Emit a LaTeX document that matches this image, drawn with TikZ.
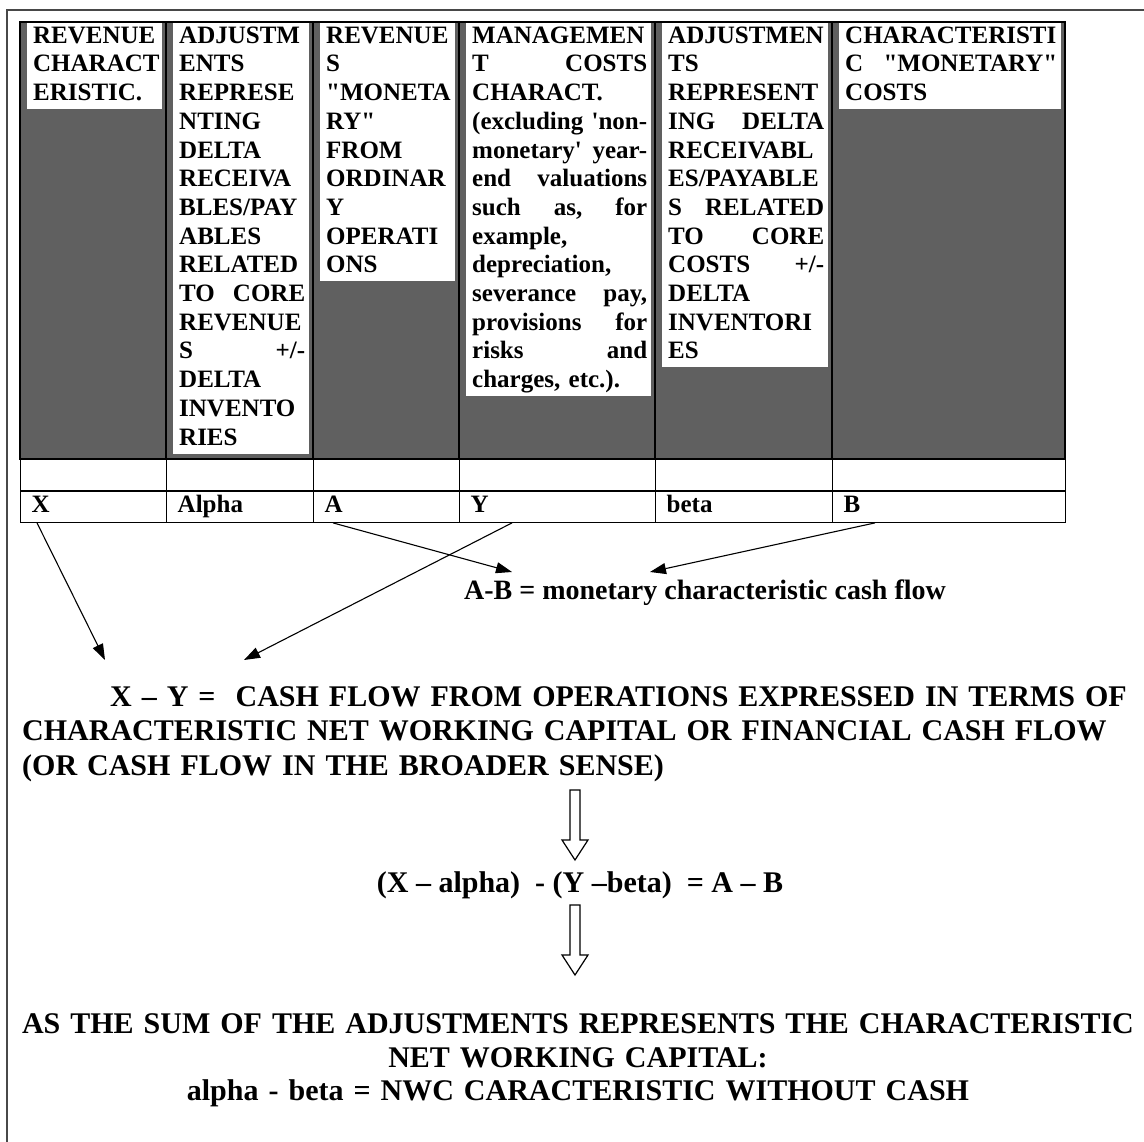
\documentclass[tikz,border=0pt]{standalone}
\usepackage{fontspec}
\setmainfont{Liberation Serif}[Ligatures=TeXOff]
\usetikzlibrary{arrows.meta}

\definecolor{cellgray}{RGB}{96,96,96}
\definecolor{framegray}{RGB}{72,72,72}

\newcommand\tabfont{\fontsize{25}{28.7}\selectfont\bfseries}
\newcommand\bigfont{\fontsize{30}{34.5}\selectfont\bfseries}
\newcommand\lastfont{\fontsize{30}{33.5}\selectfont\bfseries}
\newcommand\midfont{\fontsize{28}{32}\selectfont\bfseries}

% header cell: left x, right x, number of text lines, node name, text
\newcommand\headcell[5]{%
  \pgfmathsetmacro\hcw{#2-#1-21}%
  \fill[cellgray] (#1,22) rectangle (#2,459);
  \fill[white] (#1+7,23) rectangle (#2-4,{23+#3*28.7});
  \node[headtext, text width=\hcw pt] (#4) at (#1+13,23) {\strut #5};
}
% value cells of the two lower rows
\newcommand\valcell[4]{%
  \pgfmathsetmacro\vcw{#2-#1}%
  \pgfmathsetmacro\vtw{#2-#1-22}%
  \node[cellbox, minimum width=\vcw pt] (e#3) at (#1,459) {};
  \node[cellbox, minimum width=\vcw pt, text width=\vtw pt] (#3) at (#1,490) {#4};
}

\begin{document}
\begin{tikzpicture}[x=1pt,y=-1pt,
  headtext/.style={anchor=north west, inner sep=0pt, align=left, font=\tabfont},
  cellbox/.style={draw=black, line width=1.4pt, anchor=north west, inner xsep=11pt,
    inner ysep=0pt, minimum height=31.5pt, text height=18pt, text depth=6pt,
    align=left, font=\tabfont},
  link/.style={line width=1.1pt, -{Triangle[length=16pt,width=11pt]}},
  hollow/.style={draw=black, line width=1.2pt, fill=white}]

\useasboundingbox (0,0) rectangle (1144,1142);

% page frame
\draw[framegray, line width=1.5pt] (7,1142) -- (7,10) -- (1144,10);

% header row: grey cells with white text strips
\headcell{20}{166}{3}{h1}{REVENUE\\CHARACT\\ERISTIC.}
\headcell{166}{313}{15}{h2}{ADJUSTM\\ENTS\\REPRESE\\NTING\\DELTA\\RECEIVA\\BLES/PAY\\ABLES\\RELATED\\TO\hfill CORE\\REVENUE\\S\hfill +/-\\DELTA\\INVENTO\\RIES}
\headcell{313}{459}{9}{h3}{REVENUE\\S\\"MONETA\\RY"\\FROM\\ORDINAR\\Y\\OPERATI\\ONS}
\headcell{459}{655}{13}{h4}{MANAGEMEN\\T\hfill COSTS\\CHARACT.\\(excluding\hfill 'non-\\monetary'\hfill year-\\end\hfill valuations\\such\hfill as,\hfill for\\example,\\depreciation,\\severance\hfill pay,\\provisions\hfill for\\risks\hfill and\\charges, etc.).}
\headcell{655}{832}{12}{h5}{ADJUSTMEN\\TS\\REPRESENT\\ING\hfill DELTA\\RECEIVABL\\ES/PAYABLE\\S\hfill RELATED\\TO\hfill CORE\\COSTS\hfill +/-\\DELTA\\INVENTORI\\ES}
\headcell{832}{1065}{3}{h6}{CHARACTERISTI\\C\hfill "MONETARY"\\COSTS}

% header borders
\foreach \xa/\xb in {20/166,166/313,313/459,459/655,655/832,832/1065}
  \draw[line width=1.4pt] (\xa,22) rectangle (\xb,459);

% empty row and value row
\valcell{20}{166}{X}{X}
\valcell{166}{313}{alpha}{Alpha}
\valcell{313}{459}{A}{A}
\valcell{459}{655}{Y}{Y}
\valcell{655}{832}{beta}{beta}
\valcell{832}{1065}{B}{B}

% texts below the table
\node[font=\midfont, inner sep=0pt] (mcf) at (705,593) {A-B = monetary characteristic cash flow};

\node[anchor=north west, inner sep=0pt, text width=1116pt, align=left, font=\bigfont] (cfo) at (22,682)
  {\strut\makebox[\linewidth][s]{\hspace*{88pt}X – Y =\ \ CASH FLOW FROM OPERATIONS EXPRESSED IN TERMS OF}\\
   \makebox[\linewidth][s]{CHARACTERISTIC NET WORKING CAPITAL OR FINANCIAL CASH FLOW}\\
   (OR CASH FLOW IN THE BROADER SENSE)};

\node[font=\bigfont, inner sep=0pt] (eq) at (580,885) {(X – alpha)\ \ - (Y –beta)\ \ = A – B};

\node[anchor=north, inner sep=0pt, text width=1130pt, align=center, font=\lastfont] (nwc) at (578,1010)
  {\strut AS THE SUM OF THE ADJUSTMENTS REPRESENTS THE CHARACTERISTIC\\
   NET WORKING CAPITAL:\\
   alpha - beta = NWC CARACTERISTIC WITHOUT CASH};

% arrow targets
\coordinate (tX) at (105,660);
\coordinate (tY) at (244,660);
\coordinate (tA) at (512,572);
\coordinate (tB) at (650,572);

% connectors from the value cells
\draw[link] ([xshift=17pt]X.south west) -- (tX);
\draw[link] ([xshift=20pt]A.south west) -- (tA);
\draw[link] ([xshift=53pt]Y.south west) -- (tY);
\draw[link] ([xshift=43pt]B.south west) -- (tB);

% hollow block arrows between the statements
\draw[hollow, shift={(575,790)}] (-5,0) -- (-5,50) -- (-13,50) -- (0,70) -- (13,50) -- (5,50) -- (5,0) -- cycle;
\draw[hollow, shift={(575,905)}] (-5,0) -- (-5,50) -- (-13,50) -- (0,70) -- (13,50) -- (5,50) -- (5,0) -- cycle;

\end{tikzpicture}
\end{document}
